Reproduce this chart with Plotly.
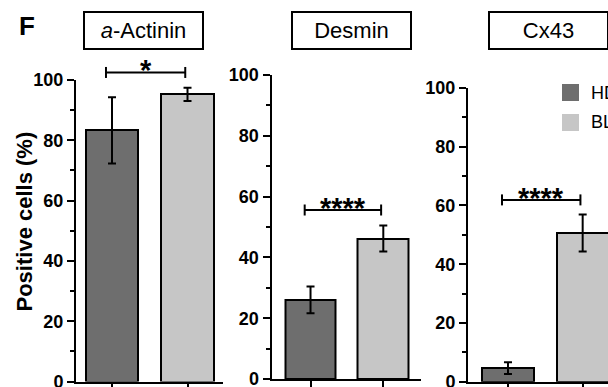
import plotly.graph_objects as go

# ---------------- data ----------------
markers = ["a-Actinin", "Desmin", "Cx43"]
marker_titles = ["<i>a</i>-Actinin", "Desmin", "Cx43"]
groups = ["HD", "BL"]
hd_mean = [83.3, 26.0, 4.6]
hd_sem = [11.0, 4.4, 2.0]
bl_mean = [95.2, 46.2, 50.6]
bl_sem = [2.2, 4.3, 6.3]
sig_labels = ["*", "****", "****"]
sig_level = [102.5, 55.6, 61.9]
y_ticks = [0, 20, 40, 60, 80, 100]
y_title = "Positive cells (%)"
panel_letter = "F"

# ---------------- style / layout ----------------
W, H = 608, 387
colors = ["#6e6e6e", "#c6c6c6"]
FONT = "Liberation Sans, Arial, sans-serif"
panel_x = [(76, 223), (271.5, 420.5), (468, 608)]      # y-axis line .. x-axis end (px)
panel_y = [(381.5, 80), (379, 75), (381.7, 88)]        # value 0 .. value 100 (px)
x_ranges = [(-0.477, 1.47), (-0.536, 1.511), (-0.535, 1.339)]
title_cx = [143.5, 351.2, 548.5]
bar_w = 0.70


def fx(px):
    return px / W


def fy(py):
    return 1 - py / H


fig = go.Figure()
means = [hd_mean, bl_mean]
sems = [hd_sem, bl_sem]

for i in range(3):
    n = "" if i == 0 else str(i + 1)
    for g in range(2):
        fig.add_trace(go.Bar(
            x=[g], y=[means[g][i]], name=groups[g], showlegend=False,
            width=bar_w, xaxis="x" + n, yaxis="y" + n,
            marker=dict(color=colors[g], line=dict(color="black", width=2)),
            error_y=dict(type="data", array=[sems[g][i]], visible=True,
                         color="black", thickness=2, width=4),
        ))

    xa = dict(domain=[fx(panel_x[i][0]), fx(panel_x[i][1])], range=list(x_ranges[i]),
              anchor="y" + n, showline=True, linewidth=2, linecolor="black",
              ticks="outside", ticklen=6, tickwidth=2, tickcolor="black",
              tickvals=[0, 1], showticklabels=False, showgrid=False, zeroline=False,
              fixedrange=True, automargin=False)
    ya = dict(domain=[fy(panel_y[i][0]), fy(panel_y[i][1])], range=[0, 100],
              anchor="x" + n, showline=True, linewidth=2, linecolor="black",
              ticks="outside", ticklen=7, tickwidth=2, tickcolor="black",
              tickvals=y_ticks, ticktext=[str(v) for v in y_ticks],
              tickfont=dict(family=FONT, size=18, color="black", weight="bold"),
              ticklabeloverflow="allow",
              minor=dict(tickvals=[10, 30, 50, 70, 90], ticks="outside", ticklen=4,
                         tickwidth=2, tickcolor="black"),
              showgrid=False, zeroline=False, fixedrange=True, automargin=False)
    fig.layout["xaxis" + n] = xa
    fig.layout["yaxis" + n] = ya

    # significance bracket
    ph = panel_y[i][0] - panel_y[i][1]
    lvl = sig_level[i] / 100
    cap = 5.5 / ph
    x0, x1 = -0.08, 0.97
    for (a, b, c, d) in [(x0, lvl, x1, lvl), (x0, lvl - cap, x0, lvl + cap), (x1, lvl - cap, x1, lvl + cap)]:
        fig.add_shape(type="line", xref="x" + n, yref="y" + n + " domain",
                      x0=a, y0=b, x1=c, y1=d, line=dict(color="black", width=2))
    fig.add_annotation(xref="x" + n, yref="y" + n + " domain", x=(x0 + x1) / 2, y=lvl,
                       text=sig_labels[i], showarrow=False, yanchor="middle", yshift=2,
                       font=dict(family=FONT, size=29, color="black", weight="bold"))

    # boxed title
    fig.add_annotation(xref="paper", yref="paper", x=fx(title_cx[i]), y=fy(31),
                       text=marker_titles[i], showarrow=False, width=117, height=35,
                       borderwidth=2, bordercolor="black", borderpad=0,
                       xanchor="center", yanchor="middle",
                       font=dict(family=FONT, size=22, color="black"))

# legend (custom squares)
for g, (top, bot) in enumerate([(84, 101), (114, 131)]):
    fig.add_shape(type="rect", xref="paper", yref="paper",
                  x0=fx(562), x1=fx(579), y0=fy(bot), y1=fy(top),
                  fillcolor=colors[g], line=dict(width=0))
    fig.add_annotation(xref="paper", yref="paper", x=fx(589), y=fy((top + bot) / 2),
                       text=groups[g], showarrow=False, xanchor="left", yanchor="middle",
                       font=dict(family=FONT, size=18, color="black"))

# y-axis title and panel letter
fig.add_annotation(xref="paper", yref="paper", x=fx(23.5), y=fy(222), text=y_title,
                   textangle=-90, showarrow=False, xanchor="center", yanchor="middle",
                   font=dict(family=FONT, size=22, color="black", weight="bold"))
fig.add_annotation(xref="paper", yref="paper", x=fx(27), y=fy(26), text=panel_letter,
                   showarrow=False, xanchor="center", yanchor="middle",
                   font=dict(family=FONT, size=26, color="black", weight="bold"))

fig.update_layout(template="none", width=W, height=H, margin=dict(l=0, r=0, t=0, b=0, pad=0),
                  paper_bgcolor="white", plot_bgcolor="white", showlegend=False,
                  bargap=0)
fig.write_html("out.html", include_plotlyjs=True, config={"displayModeBar": False},
               post_script="document.body.style.margin='0';document.body.style.overflow='hidden';")
